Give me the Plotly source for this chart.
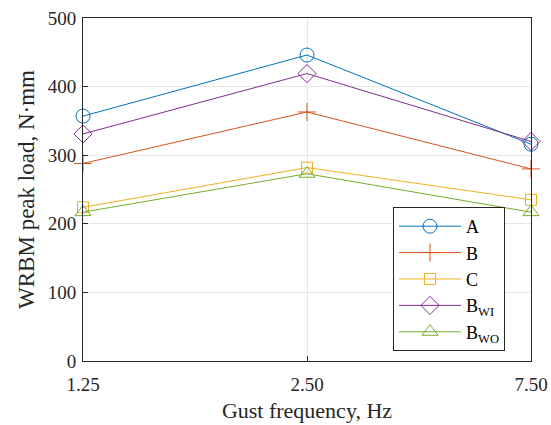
import plotly.graph_objects as go

freq_labels = ["1.25", "2.50", "7.50"]
A = [357, 446, 316]
B = [288, 363, 280]
C = [224, 282, 235]
B_WI = [331, 419, 320]
B_WO = [217, 273, 217]

series = [
    ("A", A, "#0072BD", "circle-open", 14),
    ("B", B, "#D95319", "cross-thin-open", 13),
    ("C", C, "#EDB120", "square-open", 11),
    ("B<sub>WI</sub>", B_WI, "#7E2F8E", "diamond-open", 14),
    ("B<sub>WO</sub>", B_WO, "#77AC30", "triangle-up-open", 14),
]

xpos = list(range(len(freq_labels)))
fig = go.Figure()
for name, vals, col, sym, sz in series:
    fig.add_trace(go.Scatter(
        x=xpos, y=vals, name=name, mode="lines+markers",
        line=dict(color=col, width=1),
        marker=dict(symbol=sym, size=sz, color=col, line=dict(color=col, width=1)),
        cliponaxis=False,
    ))

axis_common = dict(
    showline=True, linecolor="#262626", linewidth=1, mirror=True,
    ticks="inside", ticklen=5, tickcolor="#262626",
    showgrid=True, gridcolor="#E6E6E6", gridwidth=1, zeroline=False,
    automargin=False,
    tickfont=dict(family="Liberation Serif", size=19, color="#262626"),
)
fig.update_xaxes(range=[0, 2], tickvals=xpos, ticktext=freq_labels,
                 ticklabelstandoff=6,
                 title=dict(text="Gust frequency, Hz", standoff=8,
                            font=dict(family="Liberation Serif", size=22, color="#262626")),
                 **axis_common)
fig.update_yaxes(range=[0, 500], tickvals=[0, 100, 200, 300, 400, 500],
                 ticklabelstandoff=2,
                 title=dict(text="WRBM peak load, N·mm", standoff=6,
                            font=dict(family="Liberation Serif", size=23, color="#262626")),
                 **axis_common)
fig.update_layout(
    width=551, height=425,
    margin=dict(l=83, r=20, t=18, b=64),
    paper_bgcolor="white", plot_bgcolor="white",
    legend=dict(x=0.692, y=0.449, xanchor="left", yanchor="top",
                bordercolor="#262626", borderwidth=1, bgcolor="white",
                font=dict(family="Liberation Serif", size=18, color="black"),
                tracegroupgap=0, itemwidth=62),
    font=dict(family="Liberation Serif"),
)
fig.write_html("out.html")
